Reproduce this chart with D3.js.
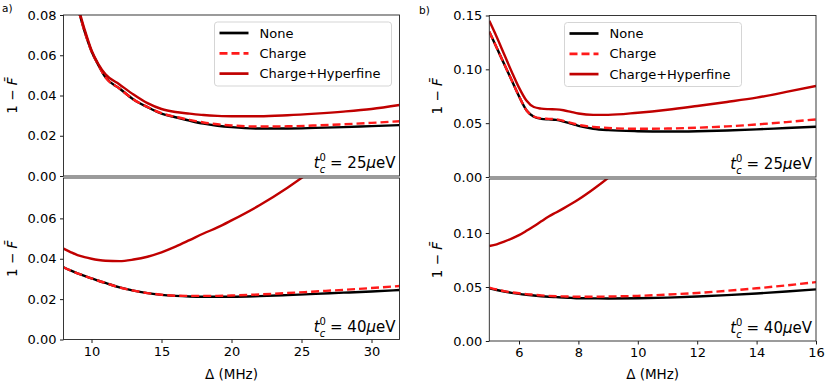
<!DOCTYPE html>
<html><head><meta charset="utf-8">
<script src="https://cdn.jsdelivr.net/npm/d3@7"></script>
<style>
body{margin:0;background:#fff;}
svg{font-family:"DejaVu Sans",sans-serif;}
</style></head><body>
<svg id="c" width="831" height="382"></svg>
<script>
// ---- data ----
const deltaA = [8,8.5,9,9.5,10,10.5,11,12,13,14,15,16,17,18,19,20,22,24,26,28,30,32];
const noneA25   = [0.105,0.095,0.084,0.072,0.062,0.055,0.049,0.0435,0.038,0.0342,0.031,0.0292,0.0275,0.026,0.025,0.0243,0.0236,0.0236,0.0239,0.0243,0.0248,0.0253];
const chargeA25 = [0.105,0.095,0.084,0.072,0.062,0.055,0.049,0.0435,0.038,0.0343,0.0312,0.0294,0.0279,0.0266,0.0257,0.0251,0.0246,0.0247,0.0251,0.0257,0.0264,0.0272];
const hypA25    = [0.106,0.096,0.085,0.073,0.0625,0.0555,0.0505,0.0455,0.0405,0.0362,0.0333,0.0318,0.031,0.0303,0.0299,0.0297,0.0297,0.0302,0.031,0.032,0.0333,0.0353];
const noneA40   = [0.0358,0.0342,0.0328,0.0315,0.0303,0.0291,0.028,0.0258,0.0242,0.023,0.0221,0.0216,0.0213,0.0212,0.0212,0.0212,0.0215,0.022,0.0226,0.0232,0.0238,0.0245];
const chargeA40 = [0.0358,0.0342,0.0328,0.0315,0.0303,0.0291,0.028,0.0258,0.0242,0.023,0.0222,0.0217,0.0216,0.0216,0.0216,0.0218,0.0223,0.023,0.0238,0.0246,0.0255,0.0265];
const hypA40    = [0.045,0.0433,0.0418,0.0408,0.040,0.0394,0.039,0.0388,0.0396,0.041,0.0432,0.046,0.0492,0.0525,0.0555,0.059,0.0665,0.0752,0.085,0.095,0.106,0.117];

const deltaB = [5,5.25,5.5,5.75,6,6.25,6.5,6.75,7,7.25,7.5,7.75,8,8.5,9,10,11,12,13,14,15,16];
const noneB25   = [0.135,0.12,0.105,0.09,0.075,0.062,0.056,0.054,0.0535,0.053,0.0515,0.0495,0.0475,0.0448,0.0435,0.0425,0.0422,0.0425,0.0432,0.0442,0.0455,0.0467];
const chargeB25 = [0.135,0.12,0.105,0.09,0.075,0.062,0.0562,0.0545,0.054,0.0536,0.0522,0.0503,0.0485,0.0465,0.0455,0.0448,0.045,0.0458,0.047,0.0488,0.051,0.0535];
const hypB25    = [0.145,0.13,0.114,0.098,0.083,0.071,0.065,0.0635,0.063,0.0628,0.062,0.0605,0.059,0.0577,0.0577,0.0597,0.0625,0.066,0.0697,0.0737,0.079,0.0845];
const noneB40   = [0.0488,0.0472,0.0458,0.0446,0.0436,0.0428,0.0421,0.0415,0.041,0.0406,0.0402,0.0399,0.0396,0.0395,0.0394,0.0396,0.0402,0.0412,0.0425,0.044,0.0458,0.0478];
const chargeB40 = [0.0495,0.0477,0.0462,0.0451,0.0442,0.0434,0.0428,0.0422,0.0418,0.0415,0.0413,0.0411,0.041,0.041,0.0412,0.0418,0.043,0.0445,0.0465,0.0488,0.0515,0.0545];
const hypB40    = [0.088,0.0895,0.092,0.0948,0.098,0.102,0.1063,0.1108,0.1153,0.119,0.1228,0.1268,0.131,0.1405,0.151,0.176,null,null,null,null,null,null];

const seriesNames = ["None","Charge","Charge+Hyperfine"];
const ticksA = [10,15,20,25,30];
const ticksB = [6,8,10,12,14,16];
const yTicksA = [0,0.02,0.04,0.06,0.08];
const yTicksB = [0,0.05,0.10,0.15];
const tcLabels = ["25","40"];

// ---- styles ----
const styles = [
  {color:"#000000", dash:null},
  {color:"#ff1a1a", dash:"8,4"},
  {color:"#c00000", dash:null}
];
const LW = 2.4;

const svg = d3.select("#c");
const defs = svg.append("defs");

const panels = [
  {id:"a25", x0:63.5, x1:399.5, y0:15, y1:176, xd:[8,32], yd:[0,0.08], xs:deltaA, data:[noneA25,chargeA25,hypA25], xt:ticksA, yt:yTicksA, top:true, tc:tcLabels[0], legend:true},
  {id:"a40", x0:63.5, x1:399.5, y0:178, y1:339.5, xd:[8,32], yd:[0,0.08], xs:deltaA, data:[noneA40,chargeA40,hypA40], xt:ticksA, yt:yTicksA.slice(0,4), top:false, tc:tcLabels[1]},
  {id:"b25", x0:489.3, x1:816, y0:15.5, y1:177, xd:[5,16], yd:[0,0.15], xs:deltaB, data:[noneB25,chargeB25,hypB25], xt:ticksB, yt:yTicksB, top:true, tc:tcLabels[0], legend:true},
  {id:"b40", x0:489.3, x1:816, y0:179, y1:341, xd:[5,16], yd:[0,0.15], xs:deltaB, data:[noneB40,chargeB40,hypB40], xt:ticksB, yt:yTicksB.slice(0,3), top:false, tc:tcLabels[1]}
];

panels.forEach(p=>{
  const x = d3.scaleLinear().domain(p.xd).range([p.x0,p.x1]);
  const y = d3.scaleLinear().domain(p.yd).range([p.y1,p.y0]);
  defs.append("clipPath").attr("id","clip-"+p.id).append("rect")
    .attr("x",p.x0).attr("y",p.y0).attr("width",p.x1-p.x0).attr("height",p.y1-p.y0);
  const g = svg.append("g");
  const plot = g.append("g").attr("clip-path","url(#clip-"+p.id+")");
  const line = d3.line().defined(d=>d[1]!=null).x(d=>x(d[0])).y(d=>y(d[1])).curve(d3.curveMonotoneX);
  p.data.forEach((arr,i)=>{
    const pts = p.xs.map((v,j)=>[v,arr[j]]);
    plot.append("path").attr("d",line(pts)).attr("fill","none")
      .attr("stroke",styles[i].color).attr("stroke-width",LW)
      .attr("stroke-dasharray",styles[i].dash).attr("stroke-linejoin","round");
  });
  // axes
  const ya = d3.axisLeft(y).tickValues(p.yt).tickFormat(d3.format(".2f")).tickSize(3.5).tickPadding(3.5);
  const yg = g.append("g").attr("transform",`translate(${p.x0},0)`).call(ya);
  yg.select(".domain").remove();
  yg.selectAll("text").attr("font-size",13).attr("font-family","DejaVu Sans").attr("fill","#000");
  yg.selectAll("line").attr("stroke","#000").attr("stroke-width",0.9);
  if(!p.top){
    const xa = d3.axisBottom(x).tickValues(p.xt).tickSize(3.5).tickPadding(3.5);
    const xg = g.append("g").attr("transform",`translate(0,${p.y1})`).call(xa);
    xg.select(".domain").remove();
    xg.selectAll("text").attr("font-size",13).attr("font-family","DejaVu Sans").attr("fill","#000");
    xg.selectAll("line").attr("stroke","#000").attr("stroke-width",0.9);
    g.append("text").attr("x",(p.x0+p.x1)/2).attr("y",378.5).attr("text-anchor","middle")
      .attr("font-size",13.5).text("Δ (MHz)");
  }
  // frame
  g.append("rect").attr("x",p.x0).attr("y",p.y0).attr("width",p.x1-p.x0).attr("height",p.y1-p.y0)
    .attr("fill","none").attr("stroke","#222").attr("stroke-width",0.9);
  // y label
  const ylx = p.id[0]==="a" ? 17 : 442;
  const yl = g.append("text").attr("transform",`translate(${ylx},${(p.y0+p.y1)/2}) rotate(-90)`)
    .attr("text-anchor","middle").attr("font-size",13.5);
  yl.append("tspan").text("1 − ");
  yl.append("tspan").attr("font-style","italic").text("F\u0304");
  // tc annotation
  const ta = g.append("text").attr("x",p.x1-4).attr("y",p.y1-8).attr("text-anchor","end").attr("font-size",15);
  ta.append("tspan").attr("font-style","italic").text("t");
  ta.append("tspan").attr("font-size",10).attr("dy",-7).text("0");
  ta.append("tspan").attr("font-size",10).attr("font-style","italic").attr("dx",-6.2).attr("dy",12).text("c");
  ta.append("tspan").attr("dy",-5).text(" = " + p.tc);
  ta.append("tspan").attr("font-style","italic").text("μ");
  ta.append("tspan").text("eV");
  // legend
  if(p.legend){
    const lx = p.id[0]==="a" ? 214.5 : 564.5;
    const lg = g.append("g").attr("transform",`translate(${lx},${p.y0+7})`);
    lg.append("rect").attr("width",177).attr("height",64).attr("rx",3)
      .attr("fill","#fff").attr("fill-opacity",0.85).attr("stroke","#d0d0d0").attr("stroke-width",0.9);
    seriesNames.forEach((n,i)=>{
      const yy = 11 + i*20.3;
      lg.append("line").attr("x1",5).attr("x2",34).attr("y1",yy).attr("y2",yy)
        .attr("stroke",styles[i].color).attr("stroke-width",LW+0.3).attr("stroke-dasharray",styles[i].dash);
      lg.append("text").attr("x",45).attr("y",yy+4.6).attr("font-size",13).text(n);
    });
  }
});
svg.append("text").attr("x",2).attr("y",12).attr("font-size",10.5).text("a)");
svg.append("text").attr("x",419).attr("y",14).attr("font-size",10.5).text("b)");
</script>
</body></html>
